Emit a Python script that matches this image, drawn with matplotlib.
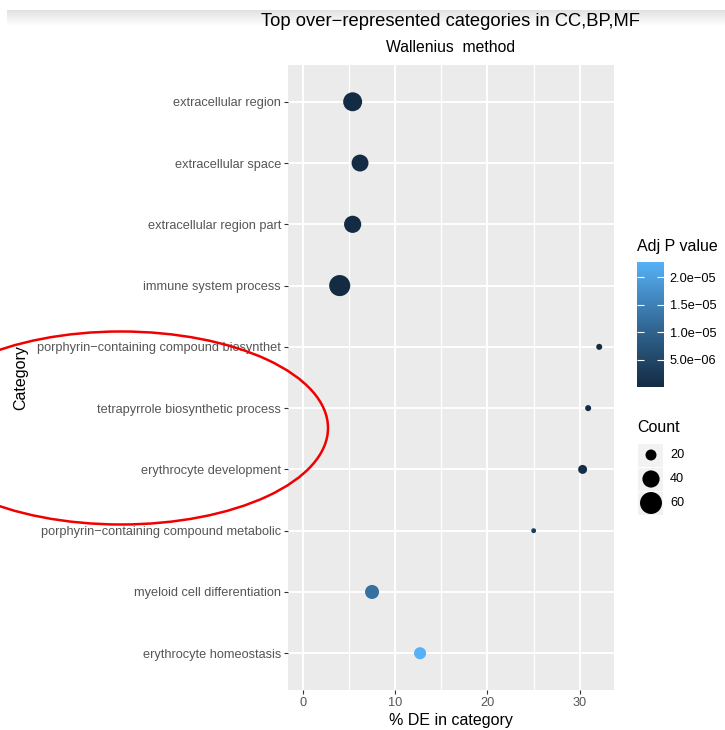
import numpy as np
import matplotlib.pyplot as plt
from matplotlib.colors import LinearSegmentedColormap
from matplotlib.patches import Ellipse, Rectangle

plt.rcParams['font.family'] = ['Liberation Sans', 'DejaVu Sans']

# GO categories, top to bottom as drawn
categories = [
    "extracellular region",
    "extracellular space",
    "extracellular region part",
    "immune system process",
    "porphyrin\u2212containing compound biosynthet",
    "tetrapyrrole biosynthetic process",
    "erythrocyte development",
    "porphyrin\u2212containing compound metabolic",
    "myeloid cell differentiation",
    "erythrocyte homeostasis",
]
pct_de = [5.4, 6.2, 5.4, 4.0, 32.1, 30.9, 30.3, 25.0, 7.5, 12.7]
counts = [47, 39, 40, 56, 9, 9, 15, 7, 29, 23]
adj_p = [2e-8, 5e-8, 1e-7, 1e-7, 2e-7, 4e-7, 6e-7, 3.4e-6, 1.25e-5, 2.28e-5]

count_breaks = [20, 40, 60]
p_breaks = [5e-6, 1e-5, 1.5e-5, 2e-5]

W, H = 725, 730
gg_blue = LinearSegmentedColormap.from_list("gg", ["#132B43", "#336A98", "#56B1F7"])


def point_size(c):
    # area in pt^2 from count (diameter grows with sqrt of count)
    d_px = -4 + 3.35 * np.sqrt(np.asarray(c, dtype=float))
    return (d_px * 72 / 100) ** 2


def fig_rect(x0, y0, x1, y1):
    return [x0 / W, 1 - y1 / H, (x1 - x0) / W, (y1 - y0) / H]


fig = plt.figure(figsize=(W / 100, H / 100), dpi=100)
fig.patch.set_facecolor("white")

ax = fig.add_axes(fig_rect(288, 65, 614, 690))
ax.set_facecolor("#EBEBEB")
ypos = np.arange(len(categories))[::-1] + 1
sc = ax.scatter(pct_de, ypos, s=point_size(counts), c=adj_p, cmap=gg_blue,
                vmin=min(adj_p), vmax=max(adj_p), edgecolors="none", zorder=3)

ax.set_xlim(-1.6, 33.7)
ax.set_ylim(0.4, len(categories) + 0.6)
ax.set_xticks([0, 10, 20, 30])
ax.set_xticks([5, 15, 25], minor=True)
ax.set_yticks(ypos)
ax.set_yticklabels(categories)
ax.grid(which="major", color="white", lw=1.4)
ax.grid(which="minor", axis="x", color="white", lw=0.9)
ax.set_axisbelow(True)
for sp in ax.spines.values():
    sp.set_visible(False)
ax.tick_params(which="major", length=3, width=0.8, color="#333333",
               labelcolor="#555555", labelsize=9.2, pad=2)
ax.tick_params(which="minor", length=0)

ax.set_xlabel("% DE in category", fontsize=11.5, labelpad=3)
ax.yaxis.set_label_coords(-260 / 326, 0.5)
ax.set_ylabel("Category", fontsize=11.5)
fig.text(451 / W, 1 - 22 / H, "Top over\u2212represented categories in CC,BP,MF",
         ha="center", va="center", fontsize=13.2)
fig.text(451 / W, 1 - 47 / H, "Wallenius  method", ha="center", va="center",
         fontsize=11.3)

# colour bar for adjusted p value
cax = fig.add_axes(fig_rect(637, 262, 664, 387))
cb = fig.colorbar(sc, cax=cax, ticks=p_breaks)
cb.outline.set_visible(False)
cb.ax.set_yticklabels([f"{v:.1e}".replace("-", "\u2212") for v in p_breaks])
cax.tick_params(which="major", direction="in", length=5, width=0.8, color="white",
                left=True, right=True, labelsize=9.2, pad=4)
cax.minorticks_off()
fig.text(637 / W, 1 - 247 / H, "Adj P value", ha="left", va="center", fontsize=11.5)

# overlay in pixel coordinates for the size legend and markup
ov = fig.add_axes([0, 0, 1, 1])
ov.set_xlim(0, W)
ov.set_ylim(H, 0)
ov.axis("off")
ov.patch.set_alpha(0)

ov.text(637, 427, "Count", ha="left", va="center", fontsize=11.5)
key_y = [455, 479, 503]
for yk in key_y:
    ov.add_patch(Rectangle((638, yk - 11.5), 25, 23, facecolor="#F2F2F2", edgecolor="none"))
ov.scatter([651] * 3, key_y, s=point_size(count_breaks), color="black",
           edgecolors="none", zorder=3)
for yk, b in zip(key_y, count_breaks):
    ov.text(670, yk, str(b), ha="left", va="center", fontsize=9.2)

# hand-drawn style highlight
ov.add_patch(Ellipse((121, 428), 414, 193, fill=False, edgecolor="#F00000", lw=1.8,
                     clip_on=False))

# soft shadow along the top edge
grad = np.linspace(0.88, 1.0, 40)[:, None] * np.ones((1, 2))
ov.imshow(grad, cmap="gray", vmin=0, vmax=1, extent=(7, W, 26, 10),
          aspect="auto", zorder=0)

fig.savefig("out.png", dpi=100)
